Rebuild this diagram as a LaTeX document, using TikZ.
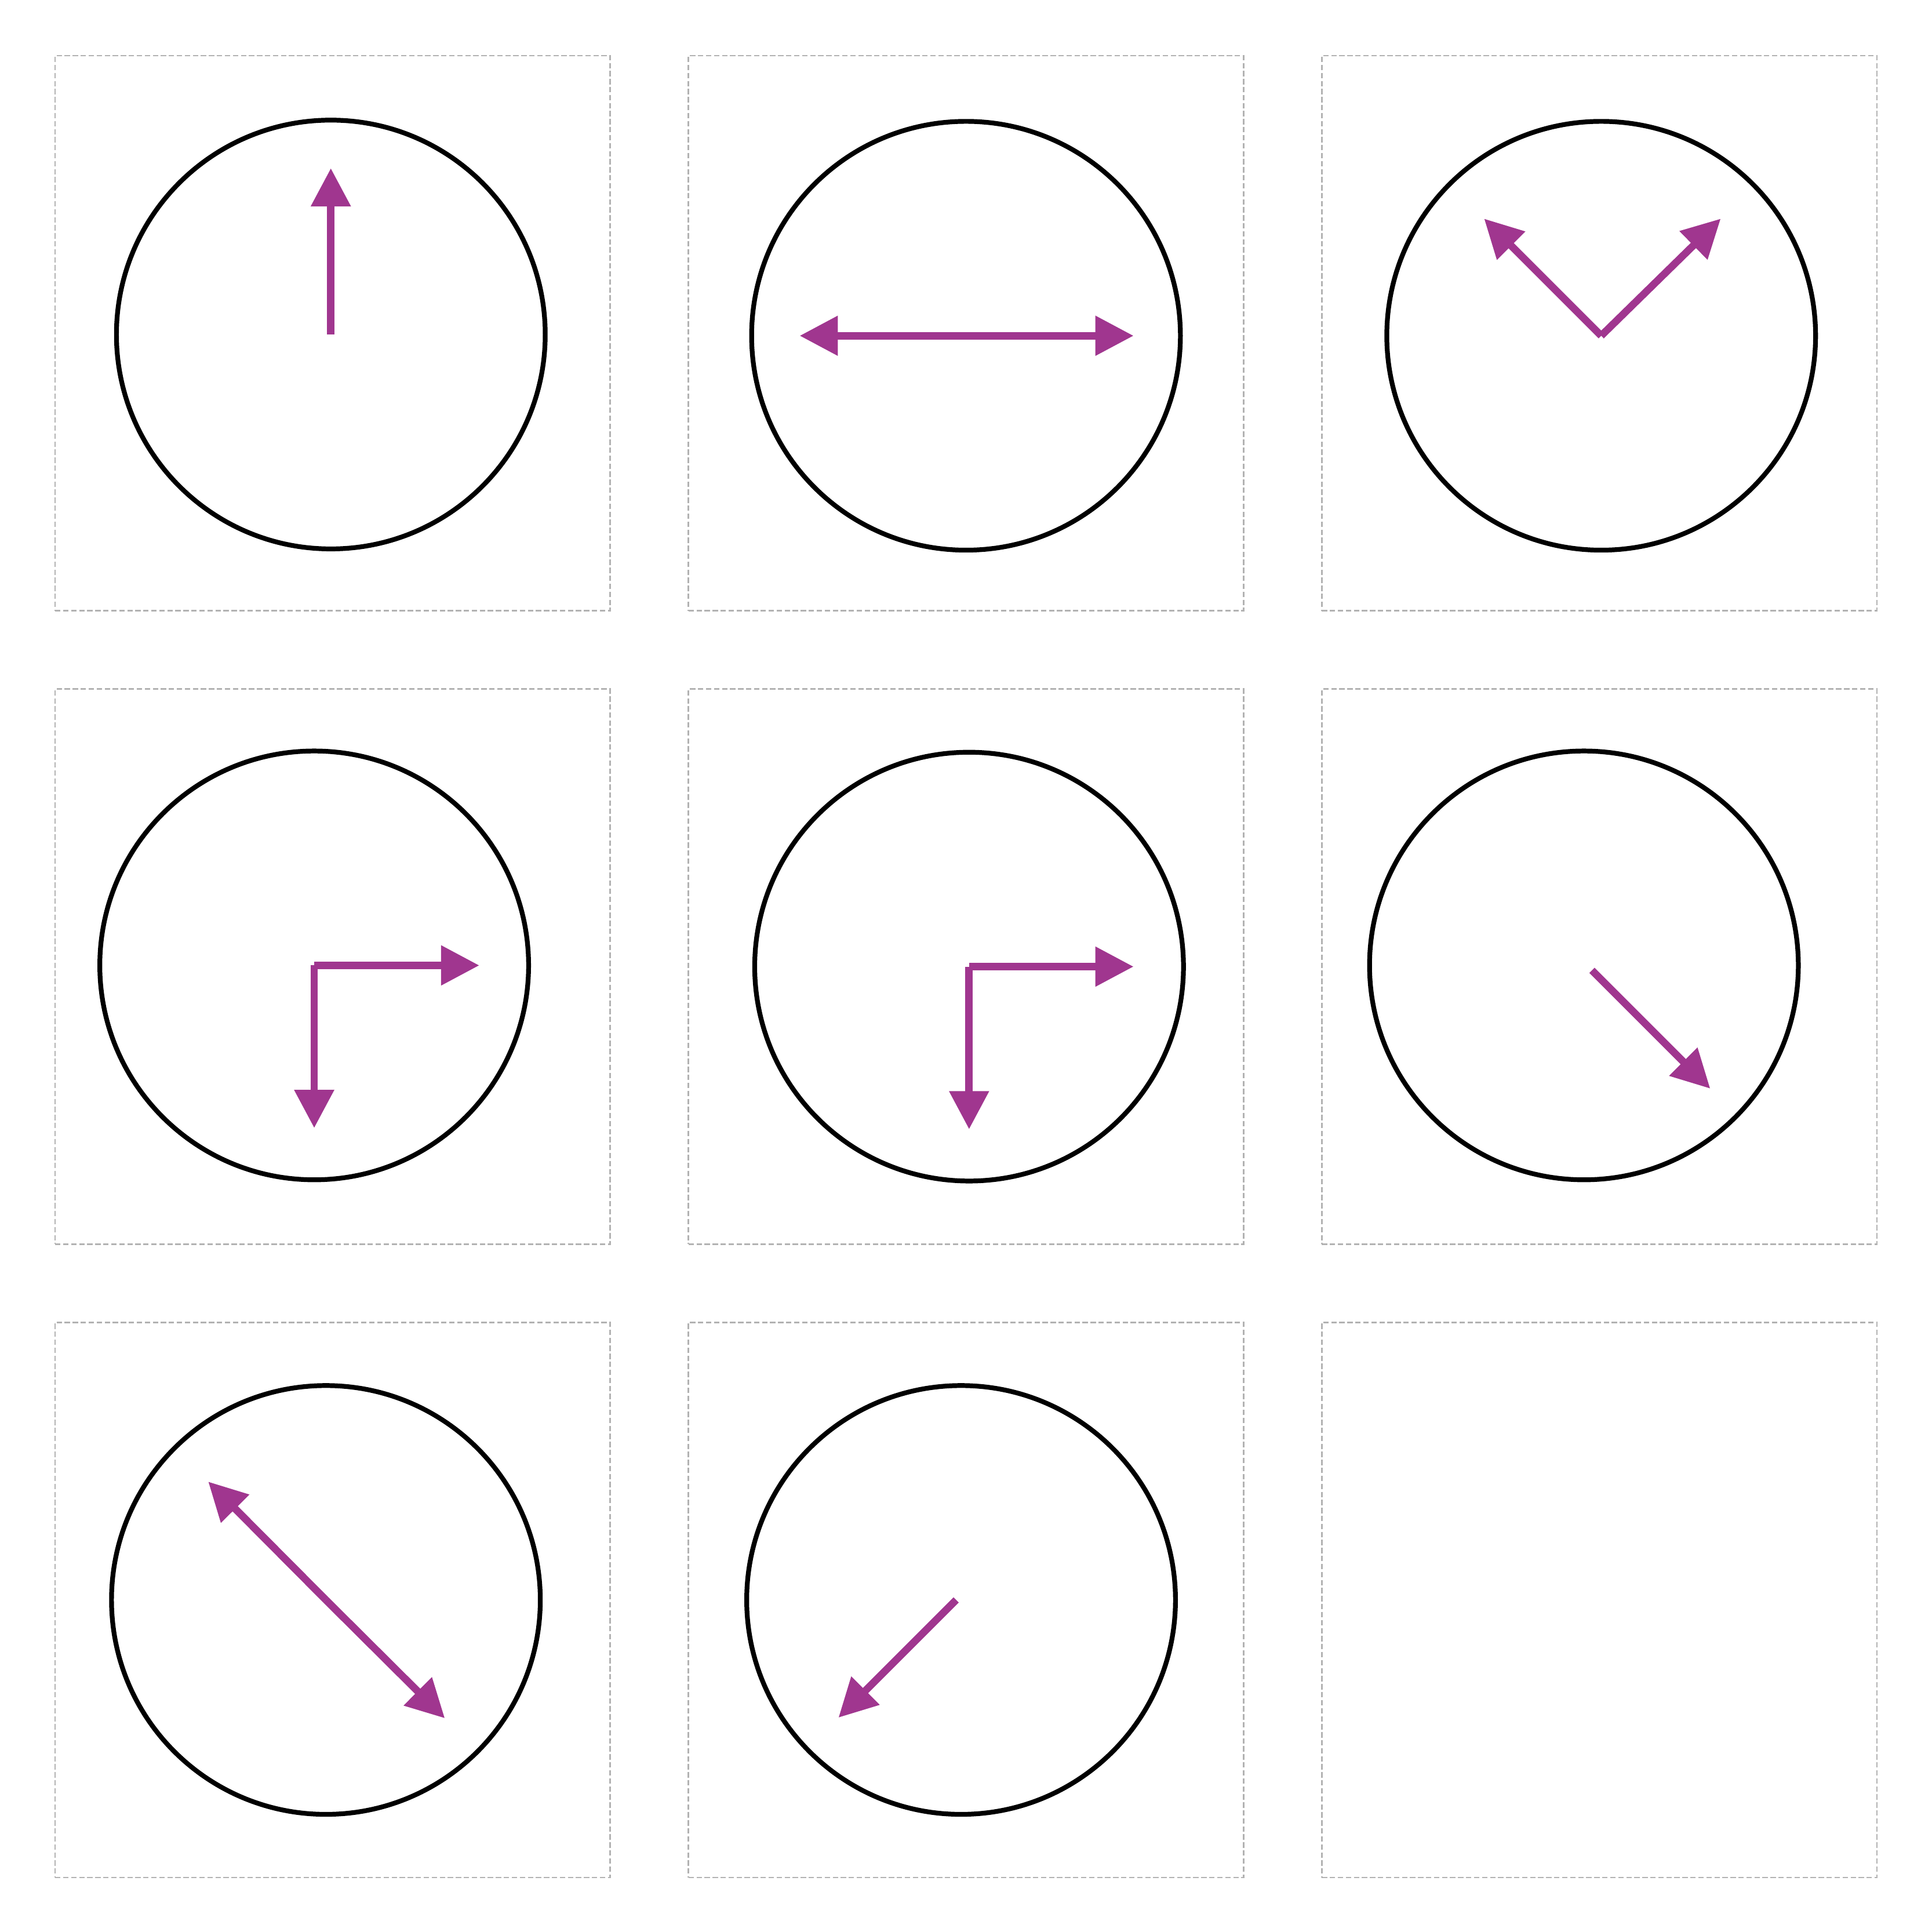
\documentclass[tikz,border=0pt]{standalone}
\usepackage{tikz}
\usetikzlibrary{positioning, arrows.meta}
\usepackage{xcolor}
\definecolor{handpurple}{RGB}{160,54,143}
\definecolor{panelgray}{RGB}{178,178,178}

\begin{document}
\begin{tikzpicture}[
        node distance=0.635cm,
        panel/.style={
            rectangle, draw=panelgray, line width=0.35pt,
            dash pattern=on 1.25pt off 0.6pt,
            minimum width=4.505cm, minimum height=4.505cm,
            inner sep=0pt, outer sep=0pt
        },
        dial/.style={
            circle, draw=black, line width=1.1pt,
            minimum size=3.48cm, inner sep=0pt
        },
        hand/.style={draw=handpurple, line width=1.7pt,
            -{Triangle[length=0.31cm, width=0.31cm]}}
    ]

    \useasboundingbox (0,0) rectangle (15.68,-15.68);

    \node [panel] (p1) at (2.70,-2.705) {};
    \node [panel, right=of p1] (p2) {};
    \node [panel, right=of p2] (p3) {};
    \node [panel, below=of p1] (p4) {};
    \node [panel, right=of p4] (p5) {};
    \node [panel, right=of p5] (p6) {};
    \node [panel, below=of p4] (p7) {};
    \node [panel, right=of p7] (p8) {};
    \node [panel, right=of p8] (p9) {};

    \node [dial] (d1) at ([shift={(-0.015,-0.01)}]p1.center) {};
    \node [dial] (d2) at ([shift={(0,-0.02)}]p2.center) {};
    \node [dial] (d3) at ([shift={(0.015,-0.02)}]p3.center) {};
    \node [dial] (d4) at ([shift={(-0.15,0.01)}]p4.center) {};
    \node [dial] (d5) at ([shift={(0.025,0)}]p5.center) {};
    \node [dial] (d6) at ([shift={(-0.125,0.01)}]p6.center) {};
    \node [dial] (d7) at ([shift={(-0.055,0)}]p7.center) {};
    \node [dial] (d8) at ([shift={(-0.04,0)}]p8.center) {};

    \coordinate [above=1.35cm of d1.center] (d1up);
    \coordinate [left=1.35cm of d2.center] (d2left);
    \coordinate [right=1.36cm of d2.center] (d2right);
    \coordinate [above left=0.95cm and 0.95cm of d3.center] (d3left);
    \coordinate [above right=0.95cm and 0.97cm of d3.center] (d3right);
    \coordinate [right=1.34cm of d4.center] (d4right);
    \coordinate [below=1.32cm of d4.center] (d4down);
    \coordinate [right=1.335cm of d5.center] (d5right);
    \coordinate [below=1.32cm of d5.center] (d5down);
    \coordinate [below right=0.04cm and 0.065cm of d6.center] (d6from);
    \coordinate [below right=0.96cm and 0.96cm of d6from] (d6to);
    \coordinate [above left=0.96cm and 0.955cm of d7.center] (d7left);
    \coordinate [below right=0.96cm and 0.965cm of d7.center] (d7right);
    \coordinate [left=0.04cm of d8.center] (d8from);
    \coordinate [below left=0.955cm and 0.955cm of d8from] (d8to);

    \draw [hand] (d1.center) -- (d1up);
    \draw [hand] (d2.center) -- (d2left);
    \draw [hand] (d2.center) -- (d2right);
    \draw [hand] (d3.center) -- (d3left);
    \draw [hand] (d3.center) -- (d3right);
    \draw [hand] (d4.center) -- (d4right);
    \draw [hand] (d4.center) -- (d4down);
    \draw [hand] (d5.center) -- (d5right);
    \draw [hand] (d5.center) -- (d5down);
    \draw [hand] (d6from) -- (d6to);
    \draw [hand] (d7.center) -- (d7left);
    \draw [hand] (d7.center) -- (d7right);
    \draw [hand] (d8from) -- (d8to);

    \end{tikzpicture}
\end{document}
